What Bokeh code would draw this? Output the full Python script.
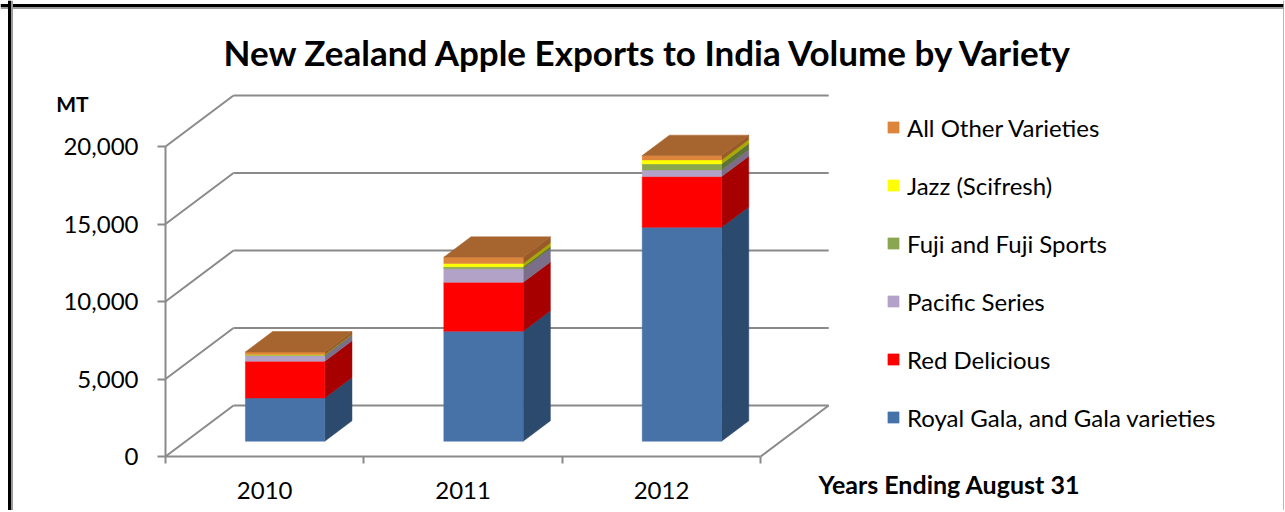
from bokeh.plotting import figure
from bokeh.models import (Range1d, FixedTicker, NumeralTickFormatter, Label,
                          Legend, LegendItem, LinearAxis, Span)
from bokeh.embed import file_html
from bokeh.resources import INLINE

# ---------------- data ----------------
years = ["2010", "2011", "2012"]
series_names = ["Royal Gala, and Gala varieties", "Red Delicious", "Pacific Series",
                "Fuji and Fuji Sports", "Jazz (Scifresh)", "All Other Varieties"]
royal_gala = [2790, 7100, 13800]
red_delicious = [2370, 3150, 3270]
pacific_series = [370, 870, 430]
fuji = [30, 130, 390]
jazz = [30, 220, 260]
all_other = [170, 400, 280]
y_ticks = [0, 5000, 10000, 15000, 20000]

series_values = [royal_gala, red_delicious, pacific_series, fuji, jazz, all_other]
front_colors = ["#4672A8", "#FF0000", "#B3A2C7", "#8BA650", "#FFFF00", "#DD853A"]
side_colors = ["#2C4A6E", "#A60000", "#7A6E88", "#5E7337", "#A8A800", "#985A26"]
top_color = "#A6642F"
grid_color = "#8A8A8A"
FONT = "Lato"

# ---------------- layout (pixels) ----------------
W, H = 1284, 510
AXIS_X_PX, AXIS_Y_PX = 165.0, 456.0   # front-left-bottom corner of the plot box
CAT_PX = 198.4                        # pixels per category
PX_PER_UNIT = 310.0 / 20000.0         # pixels per MT
DEPTH_PX_X, DEPTH_PX_Y = 68.0, 51.0

DX = DEPTH_PX_X / CAT_PX
DY = DEPTH_PX_Y / PX_PER_UNIT
D0, D1 = 0.3, 0.7
BAR_W = 0.4
XL, XR = -0.5, len(years) - 0.5

def X(px):
    return XL + (px - AXIS_X_PX) / CAT_PX

def Y(py):
    return (AXIS_Y_PX - py) / PX_PER_UNIT

p = figure(width=W, height=H, output_backend="svg", toolbar_location=None,
           x_range=Range1d(X(0), X(W)), y_range=Range1d(Y(H), Y(0)),
           x_axis_location=None, y_axis_location=None,
           min_border_left=0, min_border_right=0, min_border_top=0, min_border_bottom=0)
p.title.visible = False
p.outline_line_color = None
p.xgrid.visible = False
p.ygrid.visible = False
p.background_fill_color = "white"
p.border_fill_color = "white"

# ---------------- chart border ----------------
p.add_layout(Span(location=Y(5), dimension="width", line_color="black", line_width=3))
p.add_layout(Span(location=Y(7.5), dimension="width", line_color="#9A9A9A", line_width=2))
p.add_layout(Span(location=X(9), dimension="height", line_color="black", line_width=3))
p.add_layout(Span(location=X(11.5), dimension="height", line_color="#9A9A9A", line_width=2))
p.add_layout(Span(location=X(1283.5), dimension="height", line_color="#A0A0A0", line_width=1.5))

# ---------------- walls ----------------
n = len(y_ticks)
p.segment(x0=[XL + DX] * n, y0=[v + DY for v in y_ticks],
          x1=[XR + DX] * n, y1=[v + DY for v in y_ticks],
          line_color=grid_color, line_width=2)
p.segment(x0=[XL] * n, y0=y_ticks, x1=[XL + DX] * n, y1=[v + DY for v in y_ticks],
          line_color=grid_color, line_width=2)
p.segment(x0=[XR], y0=[0], x1=[XR + DX], y1=[DY], line_color=grid_color, line_width=2)

# ---------------- bars ----------------
cum = [0.0] * len(years)
front_renderers = []
for k, vals in enumerate(series_values):
    lefts, rights, bottoms, tops = [], [], [], []
    side_xs, side_ys = [], []
    for i, v in enumerate(vals):
        b, t = cum[i], cum[i] + v
        xl = i - BAR_W / 2
        xr = i + BAR_W / 2
        lefts.append(xl + D0 * DX)
        rights.append(xr + D0 * DX)
        bottoms.append(b + D0 * DY)
        tops.append(t + D0 * DY)
        side_xs.append([xr + D0 * DX, xr + D1 * DX, xr + D1 * DX, xr + D0 * DX])
        side_ys.append([b + D0 * DY, b + D1 * DY, t + D1 * DY, t + D0 * DY])
        cum[i] = t
    p.patches(side_xs, side_ys, fill_color=side_colors[k], line_color=side_colors[k],
              line_width=0.5)
    r = p.quad(left=lefts, right=rights, bottom=bottoms, top=tops,
               fill_color=front_colors[k], line_color=front_colors[k], line_width=0.5)
    front_renderers.append(r)

top_xs, top_ys = [], []
for i, t in enumerate(cum):
    xl = i - BAR_W / 2
    xr = i + BAR_W / 2
    top_xs.append([xl + D0 * DX, xr + D0 * DX, xr + D1 * DX, xl + D1 * DX])
    top_ys.append([t + D0 * DY, t + D0 * DY, t + D1 * DY, t + D1 * DY])
p.patches(top_xs, top_ys, fill_color=top_color, line_color=top_color, line_width=0.5)

# ---------------- axes ----------------
yaxis = LinearAxis(ticker=FixedTicker(ticks=y_ticks), bounds=(0, y_ticks[-1]),
                   formatter=NumeralTickFormatter(format="0,0"), fixed_location=XL)
yaxis.axis_line_color = grid_color
yaxis.axis_line_width = 2
yaxis.major_tick_line_color = grid_color
yaxis.major_tick_line_width = 2
yaxis.major_tick_out = 8
yaxis.major_tick_in = 0
yaxis.minor_tick_line_color = None
yaxis.major_label_standoff = 19
yaxis.major_label_text_font = FONT
yaxis.major_label_text_font_size = "24px"
yaxis.major_label_text_color = "black"
p.add_layout(yaxis, "left")

xaxis = LinearAxis(ticker=FixedTicker(ticks=list(range(len(years))),
                                      minor_ticks=[i - 0.5 for i in range(len(years) + 1)]),
                   bounds=(XL, XR), fixed_location=0)
xaxis.major_label_overrides = {i: y for i, y in enumerate(years)}
xaxis.axis_line_color = grid_color
xaxis.axis_line_width = 2
xaxis.major_tick_line_color = None
xaxis.major_tick_out = 0
xaxis.major_tick_in = 0
xaxis.minor_tick_line_color = grid_color
xaxis.minor_tick_line_width = 2
xaxis.minor_tick_out = 7
xaxis.minor_tick_in = 0
xaxis.major_label_standoff = 18
xaxis.major_label_text_font = FONT
xaxis.major_label_text_font_size = "24px"
xaxis.major_label_text_color = "black"
p.add_layout(xaxis, "below")

# ---------------- legend ----------------
items = [LegendItem(label=series_names[k], renderers=[front_renderers[k]])
         for k in reversed(range(len(series_names)))]
legend = Legend(items=items, location=(886, H - 432))
legend.glyph_width = 14
legend.glyph_height = 14
legend.label_standoff = 7
legend.spacing = 28
legend.label_height = 30
legend.padding = 0
legend.margin = 0
legend.border_line_alpha = 0
legend.background_fill_alpha = 0
legend.label_text_font = FONT
legend.label_text_font_size = "24px"
legend.label_text_color = "black"
p.add_layout(legend)

# ---------------- texts ----------------
p.add_layout(Label(x=X(649), y=Y(51), text="New Zealand Apple Exports to India Volume by Variety",
                   text_align="center", text_baseline="middle", text_font=FONT,
                   text_font_style="bold", text_font_size="35px", text_color="black"))
p.add_layout(Label(x=X(72), y=Y(103), text="MT", text_align="center", text_baseline="middle",
                   text_font=FONT, text_font_style="bold", text_font_size="21px",
                   text_color="black"))
p.add_layout(Label(x=X(818), y=Y(483), text="Years Ending August 31", text_align="left",
                   text_baseline="middle", text_font=FONT, text_font_style="bold",
                   text_font_size="25px", text_color="black"))

open("out.html", "w").write(file_html(p, INLINE))
